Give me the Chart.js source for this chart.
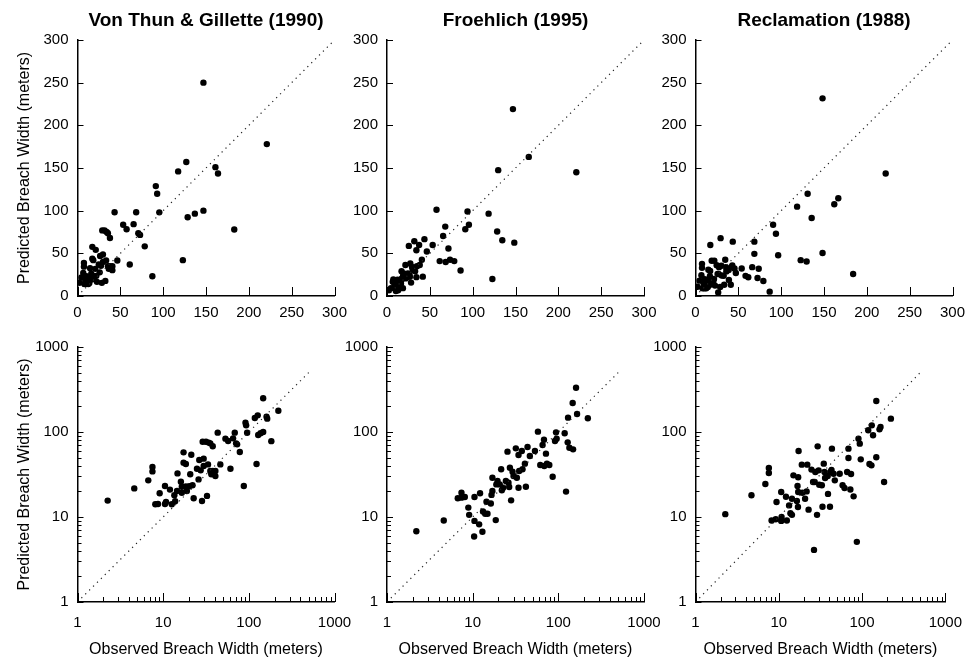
<!DOCTYPE html>
<html>
<head>
<meta charset="utf-8">
<title>Predicted vs observed breach width</title>
<script src="https://cdn.jsdelivr.net/npm/chart.js@4.4.0/dist/chart.umd.min.js"></script>
<style>
  body { margin: 0; background: #fff; }
  canvas { position: absolute; left: 0; top: 0; }
</style>
</head>
<body>
<canvas id="c1" width="974" height="662"></canvas>
<canvas id="c2" width="974" height="662"></canvas>
<canvas id="c3" width="974" height="662"></canvas>
<canvas id="c4" width="974" height="662"></canvas>
<canvas id="c5" width="974" height="662"></canvas>
<canvas id="c6" width="974" height="662"></canvas>
<script>
// observed / predicted breach widths (meters), one pair per dam
var vonThunObserved = [2.25, 4.6, 6.7, 7.5, 7.5, 9.1, 8.1, 8.7, 10.5, 10.5, 10.8, 12, 12.6, 13.5, 13.8, 14.5, 14.7, 16.1, 16.5, 16.5, 17.3, 17.3, 18.4, 18.4, 18.9, 20.2, 21.3, 20.7, 22, 22.7, 24.8, 25.9, 26.4, 27.4, 28.4, 29.7, 28.9, 31.6, 34, 35.5, 37.9, 29.7, 32.5, 33.4, 35.5, 36.5, 37.9, 40.7, 40.7, 43.3, 46.5, 53.3, 57.3, 61, 65.5, 68.5, 71, 73, 78.5, 87.4, 91.4, 93, 95.5, 123, 117.5, 127, 128.6, 137, 147, 147, 161, 164, 183, 221];
var vonThunPredicted = [15.6, 21.7, 27, 38.7, 34.4, 19, 14.1, 14.2, 23.2, 14.2, 15, 21, 14.1, 18, 15.3, 20.2, 32.6, 26, 22.7, 19.3, 57.6, 43.6, 42, 22.9, 20.2, 23, 54.1, 31.8, 23.6, 16.6, 37, 27.7, 46.9, 35.4, 15.4, 48.6, 76.9, 76.9, 75, 73.5, 68, 39.8, 17.7, 41.6, 34.8, 31.8, 34.8, 30.3, 34.8, 98.2, 41.6, 83.5, 78.3, 37, 84.2, 98.2, 73.5, 71.6, 58.2, 23.2, 128.8, 119.8, 98, 42, 146, 157, 92.2, 96.5, 100, 250, 151, 143.6, 78, 178];

var froehlichObserved = [2.2, 4.6, 6.7, 7.4, 7.4, 8.1, 8.9, 9.1, 10.5, 10.5, 10.4, 11.9, 12.2, 13, 13.2, 14, 14.5, 14.9, 16.3, 16.6, 17, 17, 18.6, 18.9, 19.5, 20.7, 21.5, 21.9, 22.7, 24.4, 25.5, 26.2, 26.7, 27.2, 28.1, 29.2, 30, 31.9, 32.8, 34.3, 34.3, 34.9, 37.5, 38.2, 40.7, 41.8, 43.7, 46.5, 53.3, 57.8, 61.5, 65.5, 68, 68.5, 71.7, 73.6, 78.5, 85.9, 91.4, 94, 95.6, 118.6, 123, 128.6, 129.8, 134.6, 148.6, 147, 161, 165.5, 221];
var froehlichPredicted = [6.8, 9.1, 16.6, 19.3, 16.9, 17.2, 12.9, 10.6, 17.2, 9, 5.9, 8.2, 19, 6.7, 11.6, 10.9, 15.1, 10.9, 14.4, 18.2, 20.2, 29, 9.2, 24.2, 26.5, 24.2, 36.4, 20.6, 22.1, 26.5, 58.7, 25.3, 22.5, 38, 15.7, 34.1, 30.4, 64.2, 29, 53.6, 22.1, 34.8, 59.8, 36.4, 42.4, 22.7, 66.6, 52.2, 59.8, 101, 40.9, 70.3, 81.3, 39.8, 55.6, 42.4, 40.9, 29.8, 78.3, 99, 83.5, 96.5, 19.9, 75.6, 147.5, 65.4, 62.5, 219, 332, 163, 145];

var reclamationObserved = [2.28, 4.7, 6.9, 7.6, 7.6, 8.2, 9.2, 9.4, 10.7, 10.8, 10.7, 12.2, 12.5, 13.3, 13.8, 14.4, 14.4, 15, 16.5, 16.8, 17, 17.1, 17.3, 17.1, 18.9, 19.2, 20.7, 21.6, 22, 22.8, 24.7, 25.8, 27, 26.5, 27.5, 28.8, 29.3, 30.1, 30.6, 32.9, 33.5, 34.7, 35.4, 36, 38.7, 39, 41.2, 41.6, 43.5, 43, 45.5, 47.1, 53.9, 58.4, 61.6, 66.2, 68.7, 68.7, 72.4, 73.8, 79.2, 86.6, 90.6, 93.9, 96.5, 118.6, 122.8, 129.7, 130.9, 135.6, 148.3, 148.3, 162, 166.7, 184, 222];
var reclamationPredicted = [10.8, 18, 24.4, 37.7, 33, 9.1, 9.4, 15, 19.7, 10, 9, 17.3, 9.1, 13.7, 11.1, 10.6, 16.4, 30.9, 15.4, 23.2, 13.1, 29.3, 59.8, 19.7, 41.3, 19.3, 16.4, 20, 41.3, 12.2, 36.1, 25.8, 25.8, 4.1, 33.8, 10.6, 67.8, 35.4, 24, 23.6, 13.2, 42.4, 33.8, 28.8, 30.4, 18.7, 13.2, 33.8, 63.7, 35.7, 32.3, 27, 32.3, 23.6, 21.9, 33.8, 49.4, 63.7, 21.1, 32, 17.5, 5.1, 83.5, 72.9, 47.7, 104.7, 42, 40.5, 119.8, 91.4, 231.6, 50.4, 107.5, 114.5, 25.8, 143.6];

// axes
var linearRange = [0, 300];
var linearTicks = [0, 50, 100, 150, 200, 250, 300];
var logRange = [1, 1000];
var logLabels = [1, 10, 100, 1000];
var logMinorSteps = [2, 3, 4, 5, 6, 7, 8, 9];
var linearDiagonal = [0, 300];
var logDiagonal = [1, 500];

var panelTitles = ["Von Thun & Gillette (1990)", "Froehlich (1995)", "Reclamation (1988)"];
var yAxisTitle = "Predicted Breach Width (meters)";
var xAxisTitle = "Observed Breach Width (meters)";

// all log tick positions: decades plus 2..9 in each decade
var logTicks = [];
logLabels.forEach(function (d) {
  logTicks.push(d);
  if (d < 1000) logMinorSteps.forEach(function (m) { logTicks.push(d * m); });
});

Chart.defaults.font.family = "'Liberation Sans', Arial, Helvetica, sans-serif";
Chart.defaults.color = "#000";

var Y_W = 70;   // fixed width of the y scale box
var X_H = 60;   // fixed height of the x scale box
var columns = [[77.5, 334.5], [387, 644], [695.5, 952.5]];
var rows = [[40, 296], [347, 602]];

// tick marks drawn inward from the axis line
var inwardTicks = {
  id: "inwardTicks",
  afterDraw: function (chart) {
    var ctx = chart.ctx;
    var xs = chart.scales.x;
    var ys = chart.scales.y;
    var isLog = xs.type === "logarithmic";
    ctx.save();
    ctx.strokeStyle = "#000";
    ctx.lineWidth = 1;
    ctx.beginPath();
    xs.ticks.forEach(function (t) {
      var major = !isLog || logLabels.indexOf(t.value) >= 0;
      var px = Math.round(xs.getPixelForValue(t.value)) + 0.5;
      ctx.moveTo(px, xs.top);
      ctx.lineTo(px, xs.top - (major ? 9 : 5));
    });
    ys.ticks.forEach(function (t) {
      var major = !isLog || logLabels.indexOf(t.value) >= 0;
      var py = Math.round(ys.getPixelForValue(t.value)) + 0.5;
      ctx.moveTo(ys.right, py);
      ctx.lineTo(ys.right + (major ? 6 : 4), py);
    });
    ctx.stroke();
    ctx.restore();
  }
};

function scaleOptions(axis, p) {
  var horizontal = axis === "x";
  var opts = {
    type: p.log ? "logarithmic" : "linear",
    min: p.log ? logRange[0] : linearRange[0],
    max: p.log ? logRange[1] : linearRange[1],
    grid: { display: false, drawTicks: false },
    border: { display: true, color: "#000", width: 1.5 },
    ticks: {
      autoSkip: false,
      maxRotation: 0,
      color: "#000",
      font: { size: 15 },
      padding: horizontal ? (p.log ? 12 : 8) : 9
    },
    afterBuildTicks: function (scale) {
      scale.ticks = (p.log ? logTicks : linearTicks).map(function (v) { return { value: v }; });
    },
    afterFit: function (scale) {
      if (horizontal) scale.height = X_H; else scale.width = Y_W;
    },
    title: { display: false }
  };
  if (p.log) {
    opts.ticks.callback = function (v) { return logLabels.indexOf(v) >= 0 ? String(v) : ""; };
  }
  if (horizontal && p.xTitle) {
    opts.title = { display: true, text: xAxisTitle, color: "#000", font: { size: 16 }, padding: { top: 0, bottom: 2.4 } };
  }
  if (!horizontal && p.yTitle) {
    opts.title = { display: true, text: yAxisTitle, color: "#000", font: { size: 16 }, padding: { top: 7, bottom: 0 } };
  }
  return opts;
}

function makePanel(id, p) {
  var col = columns[p.col];
  var row = rows[p.row];
  var points = p.observed.map(function (v, i) { return { x: v, y: p.predicted[i] }; });
  var diag = (p.log ? logDiagonal : linearDiagonal).map(function (v) { return { x: v, y: v }; });

  new Chart(document.getElementById(id), {
    type: "scatter",
    data: {
      datasets: [
        {
          data: diag,
          showLine: true,
          borderColor: "#222",
          borderWidth: 1.2,
          borderDash: [1.2, 4.3],
          pointRadius: 0
        },
        {
          data: points,
          backgroundColor: "#000",
          borderColor: "#000",
          borderWidth: 0,
          pointRadius: 3.2
        }
      ]
    },
    options: {
      responsive: false,
      animation: false,
      devicePixelRatio: 1,
      layout: {
        padding: {
          left: col[0] - Y_W,
          right: 974 - col[1],
          top: p.title ? 0 : row[0],
          bottom: 662 - row[1] - X_H
        }
      },
      plugins: {
        legend: { display: false },
        tooltip: { enabled: false },
        title: {
          display: !!p.title,
          text: p.title || "",
          fullSize: false,
          color: "#000",
          font: { size: 19, weight: "bold" },
          padding: { top: 9, bottom: 8.2 }
        }
      },
      scales: {
        x: scaleOptions("x", p),
        y: scaleOptions("y", p)
      }
    },
    plugins: [inwardTicks]
  });
}

var methods = [
  [vonThunObserved, vonThunPredicted],
  [froehlichObserved, froehlichPredicted],
  [reclamationObserved, reclamationPredicted]
];

methods.forEach(function (m, i) {
  // linear panels on top
  makePanel("c" + (i + 1), {
    observed: m[0], predicted: m[1], log: false, col: i, row: 0,
    title: panelTitles[i], yTitle: i === 0, xTitle: false
  });
  // log panels below
  makePanel("c" + (i + 4), {
    observed: m[0], predicted: m[1], log: true, col: i, row: 1,
    title: null, yTitle: i === 0, xTitle: true
  });
});
</script>
</body>
</html>
